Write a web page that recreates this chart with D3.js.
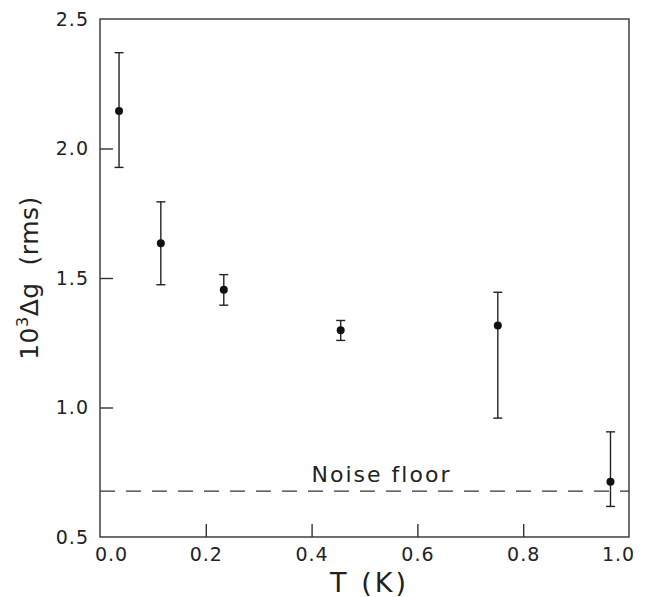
<!DOCTYPE html>
<html>
<head>
<meta charset="utf-8">
<script src="https://cdn.jsdelivr.net/npm/d3@7"></script>
<style>
  body { margin: 0; background: #fff; }
  text { font-family: "DejaVu Sans", sans-serif; fill: #222; }
</style>
</head>
<body>
<script>
// Data
const temps  = [0.036, 0.115, 0.234, 0.455, 0.752, 0.965];
const dg     = [2.145, 1.634, 1.455, 1.298, 1.317, 0.713];
const errHi  = [2.370, 1.794, 1.513, 1.336, 1.445, 0.906];
const errLo  = [1.927, 1.474, 1.395, 1.259, 0.959, 0.618];
const noiseFloor = 0.677;
const xTicks = [0, 0.2, 0.4, 0.6, 0.8, 1.0];
const yTicks = [0.5, 1.0, 1.5, 2.0, 2.5];

const margin = { top: 19, right: 16, bottom: 60, left: 100 },
  width = 645 - margin.left - margin.right,
  height = 597 - margin.top - margin.bottom;

const x = d3.scaleLinear().domain([0, 1]).range([0, width]);
const y = d3.scaleLinear().domain([0.5, 2.5]).range([height, 0]);

const svg = d3.select("body")
  .append("svg")
  .attr("width", 645)
  .attr("height", 597)
  .append("g")
  .attr("transform", "translate(" + margin.left + "," + margin.top + ")");

// Frame
svg.append("rect")
  .attr("width", width).attr("height", height)
  .attr("fill", "none").attr("stroke", "#333").attr("stroke-width", 1.4);

// Axes with inward ticks
const xAxis = d3.axisBottom(x).tickValues(xTicks).tickFormat(d3.format(".1f"))
  .tickSizeInner(-13).tickSizeOuter(0).tickPadding(11);
const yAxis = d3.axisLeft(y).tickValues(yTicks).tickFormat(d3.format(".1f"))
  .tickSizeInner(-13).tickSizeOuter(0).tickPadding(11);

const gx = svg.append("g")
  .attr("transform", "translate(0," + height + ")")
  .call(xAxis);
const gy = svg.append("g").call(yAxis);

[gx, gy].forEach(g => {
  g.select(".domain").remove();
  g.selectAll(".tick line").attr("stroke", "#333").attr("stroke-width", 1.4);
  g.selectAll(".tick text")
    .attr("fill", "#222")
    .style("font-size", "19px")
    .style("letter-spacing", "1px")
    .style("font-family", "'DejaVu Sans', sans-serif");
});
gy.selectAll(".tick line").filter(d => d === 0.5 || d === 2.5).remove();
gx.selectAll(".tick line").filter(d => d === 0 || d === 1).remove();
gx.selectAll(".tick text").filter(d => d === 0).attr("dx", 11);
gx.selectAll(".tick text").filter(d => d === 1).attr("dx", -11);

// Noise floor
svg.append("line")
  .attr("x1", 0).attr("x2", width)
  .attr("y1", y(noiseFloor)).attr("y2", y(noiseFloor))
  .attr("stroke", "#333").attr("stroke-width", 1.2)
  .attr("stroke-dasharray", "15,11");

svg.append("text")
  .attr("x", x(0.4)).attr("y", y(noiseFloor) - 9)
  .style("font-size", "22px")
  .style("letter-spacing", "2px")
  .text("Noise floor");

// Error bars
const pts = temps.map((t, i) => ({ t, v: dg[i], hi: errHi[i], lo: errLo[i] }));

const eb = svg.selectAll(".eb").data(pts).enter().append("g")
  .attr("stroke", "#222").attr("stroke-width", 1.4);
eb.append("line")
  .attr("x1", d => x(d.t)).attr("x2", d => x(d.t))
  .attr("y1", d => y(d.hi)).attr("y2", d => y(d.lo));
eb.append("line")
  .attr("x1", d => x(d.t) - 4.5).attr("x2", d => x(d.t) + 4.5)
  .attr("y1", d => y(d.hi)).attr("y2", d => y(d.hi));
eb.append("line")
  .attr("x1", d => x(d.t) - 4.5).attr("x2", d => x(d.t) + 4.5)
  .attr("y1", d => y(d.lo)).attr("y2", d => y(d.lo));

svg.selectAll(".dot").data(pts).enter().append("circle")
  .attr("r", 4)
  .attr("fill", "#111")
  .attr("cx", d => x(d.t))
  .attr("cy", d => y(d.v));

// Axis titles
svg.append("text")
  .attr("x", width / 2 + 5).attr("y", 592 - margin.top)
  .attr("text-anchor", "middle")
  .style("font-size", "27px")
  .style("letter-spacing", "3px")
  .attr("xml:space", "preserve")
  .text("T (K)");

const yt = svg.append("text")
  .attr("transform", "translate(" + (38 - margin.left) + "," + (height / 2) + ") rotate(-90)")
  .attr("text-anchor", "middle")
  .style("font-size", "25px")
  .style("letter-spacing", "0.5px")
  .attr("xml:space", "preserve");
yt.append("tspan").text("10");
yt.append("tspan").attr("dy", -10).style("font-size", "16px").text("3");
yt.append("tspan").attr("dy", 10).text("Δg  (rms)");
</script>
</body>
</html>
